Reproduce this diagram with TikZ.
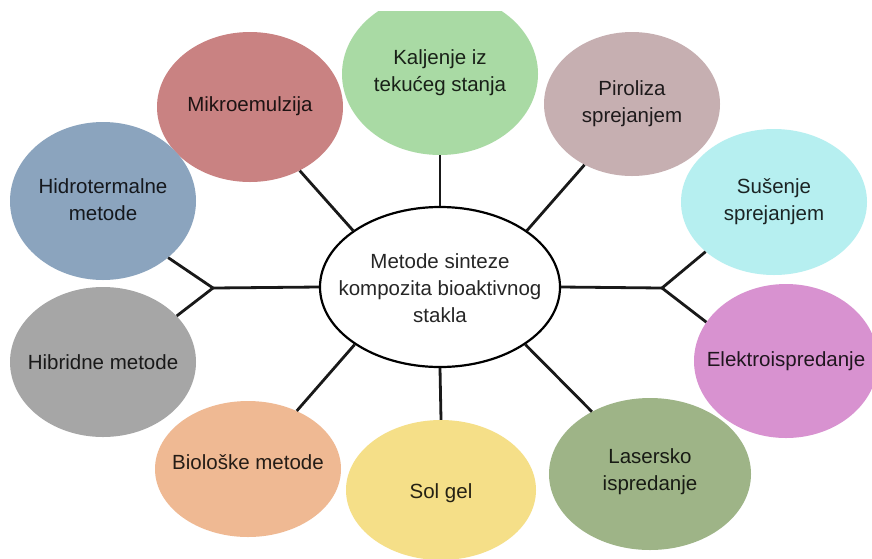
\documentclass[tikz,border=0pt]{standalone}
\usepackage{fontspec}
\setmainfont{Liberation Sans}
\usetikzlibrary{shapes.geometric}
\definecolor{cKal}{HTML}{A9DAA4}
\definecolor{cMik}{HTML}{C98282}
\definecolor{cPir}{HTML}{C6AFB1}
\definecolor{cHid}{HTML}{8BA4BE}
\definecolor{cSus}{HTML}{B6EFF0}
\definecolor{cHib}{HTML}{A6A6A6}
\definecolor{cEle}{HTML}{D892D0}
\definecolor{cBio}{HTML}{EFB993}
\definecolor{cSol}{HTML}{F5DF88}
\definecolor{cLas}{HTML}{9EB487}
\definecolor{cTxt}{HTML}{262626}
\tikzset{
  blob/.style={ellipse, draw=none, inner sep=0pt},
  lbl/.style={text=cTxt, align=center, font=\fontsize{20.5}{27}\selectfont, inner sep=0pt},
  link/.style={line width=2.8pt, draw=black!90}
}
\begin{document}
\begin{tikzpicture}[x=1pt,y=-1pt]
\useasboundingbox[fill=white] (0,0) rectangle (872,558);
\begin{scope}
\clip (0,11) rectangle (872,558);
\node[blob, fill=cKal, minimum width=196pt, minimum height=162pt] (kal) at (440,74) {};
\end{scope}
\node[blob, fill=cMik, minimum width=186pt, minimum height=150pt] (mik) at (250,107) {};
\node[blob, fill=cPir, minimum width=176pt, minimum height=144pt] (pir) at (632,104) {};
\node[blob, fill=cHid, minimum width=186pt, minimum height=158pt] (hid) at (103,201) {};
\node[blob, fill=cSus, minimum width=186pt, minimum height=146pt] (sus) at (774,202) {};
\node[blob, fill=cHib, minimum width=186pt, minimum height=150pt] (hib) at (103,362) {};
\node[blob, fill=cEle, minimum width=184pt, minimum height=154pt] (ele) at (786,361) {};
\node[blob, fill=cBio, minimum width=186pt, minimum height=136pt] (bio) at (248,469) {};
\node[blob, fill=cSol, minimum width=190pt, minimum height=140pt] (sol) at (441,490) {};
\node[blob, fill=cLas, minimum width=202pt, minimum height=152pt] (las) at (650,474) {};
\node[ellipse, draw=black, line width=2.2pt, fill=white, inner sep=0pt, minimum width=240pt, minimum height=160pt] (cen) at (440,287) {};

\node[lbl] (tcen) at (440,288) {Metode sinteze\\kompozita bioaktivnog\\stakla};
\node[lbl, text=cKal!15!black] (tkal) at (440,73) {Kaljenje iz\\tekućeg stanja};
\node[lbl, text=cMik!15!black] (tmik) at (250,106) {Mikroemulzija};
\node[lbl, text=cPir!15!black] (tpir) at (632,104) {Piroliza\\sprejanjem};
\node[lbl, text=cHid!15!black] (thid) at (103,200) {Hidrotermalne\\metode};
\node[lbl, text=cSus!15!black] (tsus) at (774,202) {Sušenje\\sprejanjem};
\node[lbl, text=cHib!15!black] (thib) at (103,362) {Hibridne metode};
\node[lbl, text=cEle!15!black] (tele) at (786,361) {Elektroispredanje};
\node[lbl, text=cBio!15!black] (tbio) at (248,462) {Biološke metode};
\node[lbl, text=cSol!15!black] (tsol) at (441,493) {Sol gel};
\node[lbl, text=cLas!15!black] (tlas) at (650,472) {Lasersko\\ispredanje};

\coordinate (lfork) at (213,288);
\coordinate (rfork) at (662,288);

\draw[link] (kal.south) -- (cen.north);
\draw[link] (mik.-52) -- (cen.147);
\draw[link] (pir.-128) -- (cen.33.5);
\draw[link] (cen.west) -- (lfork);
\draw[link] (hid.-41) -- (lfork) -- (hib.32);
\draw[link] (cen.east) -- (rfork);
\draw[link] (sus.-144) -- (rfork) -- (ele.154);
\draw[link] (bio.50) -- (cen.-146);
\draw[link] (cen.south) -- (sol.north);
\draw[link] (cen.-34.5) -- (las.133);
\end{tikzpicture}
\end{document}
